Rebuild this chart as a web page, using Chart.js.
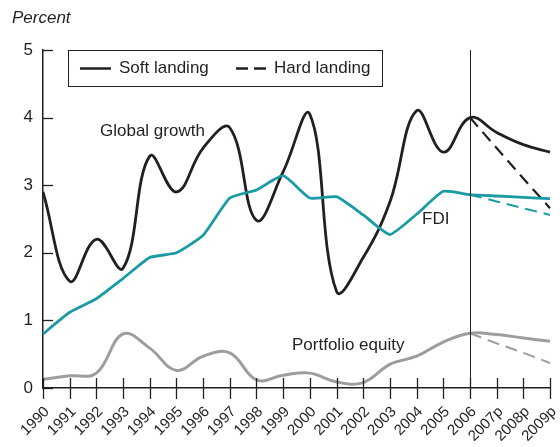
<!DOCTYPE html>
<html>
<head>
<meta charset="utf-8">
<script src="https://cdn.jsdelivr.net/npm/chart.js@4.4.1/dist/chart.umd.min.js"></script>
<style>
html,body{margin:0;padding:0;background:#fff;}
#wrap{width:560px;height:447px;position:relative;}
</style>
</head>
<body>
<div id="wrap"><canvas id="c" width="560" height="447"></canvas></div>
<script>
const years = ['1990','1991','1992','1993','1994','1995','1996','1997','1998','1999','2000','2001','2002','2003','2004','2005','2006','2007p','2008p','2009p'];
const globalSoft = [2.9,1.58,2.2,1.77,3.43,2.9,3.55,3.85,2.48,3.2,4.05,1.43,1.93,2.75,4.1,3.49,4.0,3.78,3.6,3.49];
const globalHard = [null,null,null,null,null,null,null,null,null,null,null,null,null,null,null,null,4.0,3.55,3.1,2.66];
const fdiSoft = [0.8,1.12,1.32,1.62,1.93,2.0,2.26,2.81,2.93,3.14,2.81,2.83,2.56,2.27,2.57,2.91,2.86,2.84,2.82,2.8];
const fdiHard = [null,null,null,null,null,null,null,null,null,null,null,null,null,null,null,null,2.86,2.76,2.66,2.56];
const portSoft = [0.13,0.18,0.22,0.8,0.59,0.26,0.47,0.52,0.12,0.19,0.22,0.09,0.08,0.35,0.47,0.68,0.81,0.79,0.74,0.69];
const portHard = [null,null,null,null,null,null,null,null,null,null,null,null,null,null,null,null,0.81,0.66,0.52,0.37];
const yTicks = [0,1,2,3,4,5];

const INK = '#231f20';
const TEAL = '#1a9aa2';
const GRAY = '#9d9d9d';
const FONT = '"Liberation Sans", Arial, sans-serif';

const overlay = {
  id: 'overlay',
  afterDraw(chart) {
    const ctx = chart.ctx;
    const xs = chart.scales.x, ys = chart.scales.y;
    const ca = chart.chartArea;
    ctx.save();
    ctx.strokeStyle = INK;
    ctx.lineWidth = 1.3;
    // y ticks (inward)
    yTicks.forEach(v => {
      const y = Math.round(ys.getPixelForValue(v)) + 0.5;
      ctx.beginPath(); ctx.moveTo(ca.left, y); ctx.lineTo(ca.left + 10, y); ctx.stroke();
    });
    // x ticks (both sides)
    years.forEach((l, i) => {
      const x = Math.round(xs.getPixelForValue(i)) + 0.5;
      ctx.beginPath(); ctx.moveTo(x, ca.bottom - 10); ctx.lineTo(x, ca.bottom + 11); ctx.stroke();
    });
    // vertical line at 2006
    const x06 = Math.round(xs.getPixelForValue(16)) + 0.5;
    ctx.lineWidth = 1;
    ctx.beginPath(); ctx.moveTo(x06, ca.top); ctx.lineTo(x06, ca.bottom); ctx.stroke();

    // legend box
    ctx.fillStyle = '#fff';
    ctx.fillRect(68.5, 50.5, 314, 36);
    ctx.strokeRect(68.5, 50.5, 314, 36);
    ctx.lineWidth = 2.5;
    ctx.beginPath(); ctx.moveTo(80, 68.5); ctx.lineTo(111, 68.5); ctx.stroke();
    ctx.setLineDash([12, 6]);
    ctx.beginPath(); ctx.moveTo(236, 68.5); ctx.lineTo(267, 68.5); ctx.stroke();
    ctx.setLineDash([]);
    ctx.fillStyle = INK;
    ctx.font = '17px ' + FONT;
    ctx.textBaseline = 'middle';
    ctx.textAlign = 'left';
    ctx.fillText('Soft landing', 119, 68);
    ctx.fillText('Hard landing', 274, 68);

    // series labels
    ctx.fillText('Global growth', 100, 131);
    ctx.fillText('FDI', 422, 219);
    ctx.fillText('Portfolio equity', 292, 345);

    ctx.font = 'italic 17px ' + FONT;
    ctx.fillText('Percent', 12, 18);
    ctx.restore();
  }
};

new Chart(document.getElementById('c'), {
  type: 'line',
  data: {
    labels: years,
    datasets: [
      {data: portHard, borderColor: GRAY, borderWidth: 2, borderDash: [12,7], tension: 0, pointRadius: 0, fill: false},
      {data: portSoft, borderColor: GRAY, borderWidth: 3, tension: 0.4, pointRadius: 0, fill: false},
      {data: fdiHard, borderColor: TEAL, borderWidth: 2, borderDash: [12,7], tension: 0, pointRadius: 0, fill: false},
      {data: fdiSoft, borderColor: TEAL, borderWidth: 2.8, tension: 0.15, pointRadius: 0, fill: false},
      {data: globalHard, borderColor: INK, borderWidth: 2.2, borderDash: [12,7], tension: 0, pointRadius: 0, fill: false},
      {data: globalSoft, borderColor: INK, borderWidth: 2.8, tension: 0.4, pointRadius: 0, fill: false}
    ]
  },
  options: {
    responsive: false,
    animation: false,
    devicePixelRatio: 1,
    layout: {padding: {top: 50, right: 10, left: 0, bottom: 0}},
    plugins: {legend: {display: false}, tooltip: {enabled: false}, title: {display: false}},
    scales: {
      x: {
        type: 'category',
        offset: false,
        grid: {display: false, drawTicks: false},
        border: {display: true, color: INK, width: 1.5},
        ticks: {
          color: INK, font: {family: FONT, size: 15},
          minRotation: 45, maxRotation: 45, autoSkip: false, padding: 15, labelOffset: 4
        },
        afterFit(s) { s.height = 59; s.paddingLeft = 0; s.paddingRight = 0; }
      },
      y: {
        min: 0, max: 5,
        grid: {display: false, drawTicks: false},
        border: {display: true, color: INK, width: 1.5},
        afterBuildTicks(s) { s.ticks = yTicks.map(v => ({value: v})); },
        ticks: {color: INK, font: {family: FONT, size: 17}, padding: 10, stepSize: 1},
        afterFit(s) { s.width = 43; s.paddingTop = 0; s.paddingBottom = 0; }
      }
    }
  },
  plugins: [overlay]
});
</script>
</body>
</html>
